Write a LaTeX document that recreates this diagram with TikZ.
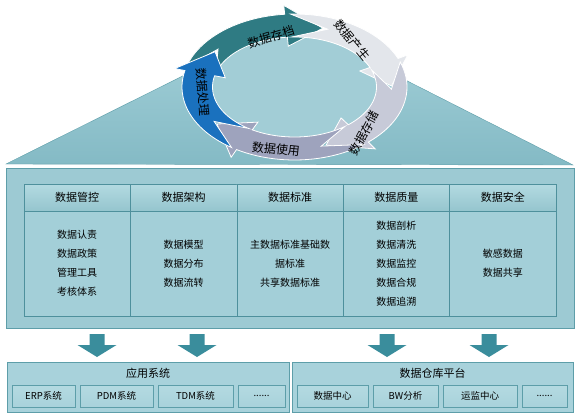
\documentclass[tikz,border=0pt]{standalone}
\usepackage{fontspec}
\setmainfont{Noto Sans CJK SC}
\usepackage{xcolor}
\usepackage{tikz}
\usetikzlibrary{positioning}
\definecolor{roofTop}{HTML}{A6D2DA}
\definecolor{roofBot}{HTML}{84BAC5}
\definecolor{roofLine}{HTML}{5E9EA9}
\definecolor{ringIn}{HTML}{A2CDD6}
\definecolor{archive}{HTML}{2F7B83}
\definecolor{create}{HTML}{E3E6EB}
\definecolor{store}{HTML}{C7CAD8}
\definecolor{use}{HTML}{9EA3BD}
\definecolor{process}{HTML}{1A71BE}
\definecolor{panelFill}{HTML}{9DCAD3}
\definecolor{cellLine}{HTML}{4E909C}
\definecolor{cellFill}{HTML}{A3CFD8}
\definecolor{headTop}{HTML}{B3DAE1}
\definecolor{headBot}{HTML}{95C5CE}
\definecolor{arrowTeal}{HTML}{3A8D9C}
\definecolor{boxLine}{HTML}{5D9EA9}
\definecolor{boxFill}{HTML}{A8D2DB}
\definecolor{subFill}{HTML}{B4DAE1}
\tikzstyle{head} = [rectangle, minimum width=106.4pt, minimum height=27pt, outer sep=0pt, text centered, draw=cellLine, top color=headTop, bottom color=headBot, font=\fontsize{11}{13}\selectfont]
\tikzstyle{cell} = [rectangle, minimum width=106.4pt, minimum height=105pt, outer sep=0pt, align=center, draw=cellLine, fill=cellFill, font=\fontsize{10}{19}\selectfont]
\tikzstyle{ringtext} = [font=\fontsize{12}{14}\selectfont, text=black]
\tikzstyle{frame} = [rectangle, minimum height=50pt, outer sep=0pt, draw=boxLine, fill=boxFill]
\tikzstyle{title} = [font=\fontsize{11}{13}\selectfont]
\tikzstyle{sysbox} = [rectangle, minimum height=22pt, outer sep=0pt, text centered, draw=boxLine, top color=subFill, bottom color=boxFill, font=\fontsize{9.5}{11}\selectfont]
\tikzstyle{downarrow} = [fill=arrowTeal]

\begin{document}
\begin{tikzpicture}[x=1pt, y=-1pt]
		\useasboundingbox (0,0) rectangle (583,415);
		\path[top color=roofTop, bottom color=roofBot, draw=roofLine] (6,164) -- (291,22) -- (573,165) -- cycle;
		\fill[ringIn] (294.5,87) ellipse [x radius=82pt, y radius=50pt];
		\foreach \tail/\col in {196/archive, 268/create, 340/store, 52/use, 124/process}{
			\pgfmathsetmacro\base{\tail+69}
			\pgfmathsetmacro\tip{\tail+91}
			\pgfmathsetmacro\notch{\tail+22}
			\filldraw[fill=\col, draw=white, line width=0.8pt]
				plot[variable=\t, domain=\tail:\base, samples=25] ({294.5+112.5*cos(\t)},{87+73*sin(\t)})
				-- ({294.5+123*cos(\base)},{87+82*sin(\base)})
				-- ({294.5+97*cos(\tip)},{87+61.5*sin(\tip)})
				-- ({294.5+71*cos(\base)},{87+41*sin(\base)})
				-- plot[variable=\t, domain=\base:\tail, samples=25] ({294.5+82*cos(\t)},{87+50*sin(\t)})
				-- ({294.5+97*cos(\notch)},{87+61.5*sin(\notch)})
				-- cycle;
		}
		\node (Archive)[ringtext, rotate=17] at (271,37) {数据存档};
		\node (Create)[ringtext, rotate=-50] at (352,40) {数据产生};
		\node (Store)[ringtext, rotate=62] at (364,133) {数据存储};
		\node (Use)[ringtext, rotate=-6] at (276,149) {数据使用};
		\node (Process)[ringtext, rotate=-86] at (203,92) {数据处理};
		\draw[draw=roofLine, fill=panelFill] (6,168) rectangle (574,328);
		\node (Manage)[head] at (77.2,197.5) {数据管控};
		\node (Arch)[head, right=0pt of Manage] {数据架构};
		\node (Standard)[head, right=0pt of Arch] {数据标准};
		\node (Quality)[head, right=0pt of Standard] {数据质量};
		\node (Security)[head, right=0pt of Quality] {数据安全};
		\node (ManageItems)[cell, below=0pt of Manage] {数据认责\\数据政策\\管理工具\\考核体系};
		\node (ArchItems)[cell, below=0pt of Arch] {数据模型\\数据分布\\数据流转};
		\node (StandardItems)[cell, below=0pt of Standard] {主数据标准基础数\\据标准\\共享数据标准};
		\node (QualityItems)[cell, below=0pt of Quality] {数据剖析\\数据清洗\\数据监控\\数据合规\\数据追溯};
		\node (SecurityItems)[cell, below=0pt of Security] {敏感数据\\数据共享};
		\foreach \ax in {97,197,387,489}
			\fill[downarrow] (\ax-7.5,334) -- (\ax+7.5,334) -- (\ax+7.5,345) -- (\ax+19.5,345) -- (\ax,357) -- (\ax-19.5,345) -- (\ax-7.5,345) -- cycle;
		\node (AppBox)[frame, minimum width=282pt] at (148,387) {};
		\node (App)[title] at (148,373) {应用系统};
		\node (ERP)[sysbox, minimum width=63pt] at (43.5,396) {ERP系统};
		\node (PDM)[sysbox, minimum width=73pt, right=5pt of ERP] {PDM系统};
		\node (TDM)[sysbox, minimum width=75pt, right=5pt of PDM] {TDM系统};
		\node (AppMore)[sysbox, minimum width=47pt, right=5pt of TDM] {......};
		\node (DWBox)[frame, minimum width=281pt] at (432.5,387) {};
		\node (DW)[title] at (432.5,373) {数据仓库平台};
		\node (DataCenter)[sysbox, minimum width=71pt] at (332.5,396) {数据中心};
		\node (BW)[sysbox, minimum width=65pt, right=5pt of DataCenter] {BW分析};
		\node (Monitor)[sysbox, minimum width=74pt, right=5pt of BW] {运监中心};
		\node (DWMore)[sysbox, minimum width=45pt, right=5pt of Monitor] {......};
	\end{tikzpicture}
\end{document}
